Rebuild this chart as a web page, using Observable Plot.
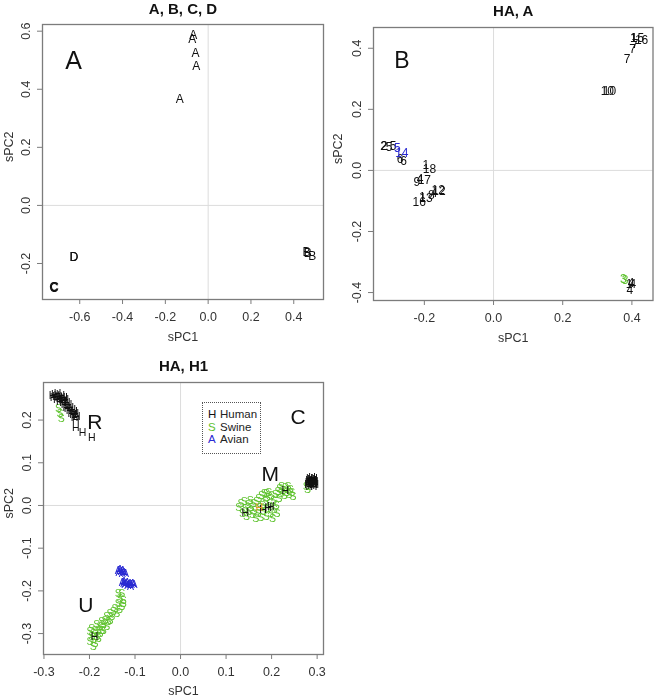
<!DOCTYPE html>
<html><head><meta charset="utf-8">
<script src="https://cdn.jsdelivr.net/npm/d3@7"></script>
<script src="https://cdn.jsdelivr.net/npm/@observablehq/plot@0.6"></script>
<style>
body{margin:0;background:#fff;font-family:"Liberation Sans",Arial,sans-serif;}
#wrap{position:relative;width:654px;height:698px;overflow:hidden;background:#fff;}
.panel{position:absolute;will-change:transform;}
.panel svg{background:transparent !important;}
.legend{position:absolute;border:1px dotted #555;box-sizing:border-box;font-size:11.5px;padding:5px 0 0 5px;line-height:12.6px;background:#fff;}
.legend .k{display:inline-block;width:12px;}
</style></head><body><div id="wrap"></div>
<script>
// ---------- Panel 1: A, B, C, D ----------
const abcdLabels = ["A","A","A","A","A","B","B","B","C","C","C","D","D"];
const abcdX = [-0.070,-0.074,-0.059,-0.056,-0.133, 0.460,0.465,0.486, -0.722,-0.720,-0.718, -0.628,-0.626];
const abcdY = [0.588,0.572,0.524,0.480,0.367, -0.160,-0.163,-0.176, -0.282,-0.285,-0.281, -0.177,-0.178];

// ---------- Panel 2: HA, A ----------
const haLabels = ["1","15","16","7","7","7","10","10","2","2","5","5","5","14","6","6","1","18","9","4","17","16","1","13","8","4","12","12","3","3","4","4","1","4"];
const haHost = ["o","o","o","o","o","o","o","o","o","o","o","o","avian","avian","o","o","o","o","o","o","o","o","o","o","o","o","o","o","swine","swine","o","o","o","o"];
const haX = [0.404,0.416,0.428,0.409,0.402,0.386,0.329,0.335,-0.318,-0.316,-0.302,-0.290,-0.278,-0.265,-0.270,-0.260,-0.196,-0.185,-0.222,-0.212,-0.200,-0.215,-0.206,-0.195,-0.180,-0.172,-0.160,-0.158,0.375,0.380,0.398,0.403,0.392,0.394];
const haY = [0.432,0.433,0.428,0.412,0.398,0.365,0.259,0.259,0.080,0.081,0.076,0.078,0.074,0.055,0.036,0.031,0.018,0.005,-0.040,-0.030,-0.033,-0.103,-0.088,-0.092,-0.082,-0.074,-0.066,-0.069,-0.356,-0.358,-0.370,-0.371,-0.372,-0.392];

// ---------- Panel 3: HA, H1 ----------
const humanPts = [
  [-0.281,0.258],[-0.279,0.252],[-0.276,0.260],[-0.274,0.255],[-0.272,0.249],[-0.270,0.262],[-0.268,0.256],[-0.266,0.250],
  [-0.265,0.244],[-0.262,0.258],[-0.261,0.252],[-0.259,0.246],[-0.258,0.240],[-0.256,0.253],[-0.255,0.236],[-0.253,0.247],
  [-0.251,0.230],[-0.250,0.242],[-0.248,0.226],[-0.246,0.236],[-0.244,0.222],[-0.242,0.230],[-0.240,0.216],[-0.238,0.224],
  [-0.236,0.212],[-0.234,0.220],[-0.233,0.206],[-0.231,0.214],[-0.230,0.200],[-0.228,0.208],[-0.230,0.183],[-0.215,0.171],[-0.195,0.158],
  [0.280,0.050],[0.282,0.058],[0.283,0.045],[0.284,0.064],[0.285,0.052],[0.286,0.060],[0.287,0.047],[0.288,0.055],[0.289,0.065],
  [0.290,0.050],[0.291,0.058],[0.292,0.045],[0.293,0.062],[0.294,0.053],[0.295,0.057],[0.296,0.049],[0.287,0.052],[0.289,0.056],
  [0.291,0.053],[0.285,0.056],[0.293,0.050],[0.281,0.054],[0.288,0.061],
  [0.142,-0.016],[0.181,-0.010],[0.193,-0.004],[0.198,-0.002],[0.230,0.035],
  [-0.189,-0.308]
];
const humanOtherPts = [[0.173,-0.006]];
const swinePts = [
  [-0.268,0.226],[-0.265,0.215],[-0.262,0.203],
  [0.276,0.044],[0.279,0.038],
  [0.128,-0.005],[0.133,0.005],[0.136,-0.018],[0.140,0.010],[0.142,-0.008],[0.145,-0.025],[0.148,0.002],[0.150,-0.015],
  [0.153,0.012],[0.155,-0.005],[0.158,-0.022],[0.160,0.004],[0.162,-0.012],[0.165,-0.030],[0.167,0.008],[0.170,-0.020],
  [0.172,0.015],[0.174,-0.005],[0.176,-0.028],[0.178,0.022],[0.180,0.000],[0.182,-0.015],[0.184,0.028],[0.186,0.010],
  [0.188,-0.025],[0.190,0.018],[0.192,-0.008],[0.194,0.030],[0.196,0.005],[0.198,-0.020],[0.200,0.022],[0.202,-0.030],
  [0.204,0.012],[0.206,-0.010],[0.208,0.025],[0.210,0.000],[0.212,-0.018],[0.214,0.032],[0.216,0.015],[0.218,0.040],
  [0.220,0.028],[0.222,0.045],[0.225,0.035],[0.228,0.022],[0.230,0.042],[0.233,0.030],[0.236,0.045],[0.238,0.025],
  [0.241,0.038],[0.244,0.030],[0.247,0.020],[0.189,0.027],
  [-0.129,-0.206],[-0.133,-0.218],[-0.126,-0.222],[-0.137,-0.230],[-0.129,-0.238],[-0.144,-0.241],[-0.148,-0.249],
  [-0.155,-0.253],[-0.151,-0.261],[-0.162,-0.261],[-0.166,-0.269],[-0.159,-0.273],[-0.173,-0.273],[-0.170,-0.280],
  [-0.177,-0.284],[-0.184,-0.280],[-0.162,-0.284],[-0.181,-0.292],[-0.188,-0.292],[-0.192,-0.300],[-0.199,-0.296],
  [-0.195,-0.308],[-0.184,-0.308],[-0.192,-0.315],[-0.199,-0.319],[-0.188,-0.323],[-0.192,-0.331],[-0.177,-0.300],
  [-0.170,-0.292],[-0.155,-0.269],[-0.140,-0.253],[-0.134,-0.245],[-0.195,-0.288],[-0.181,-0.311],[-0.173,-0.292],
  [-0.137,-0.206],[-0.126,-0.230]
];
const avianPts = [
  [-0.137,-0.152],[-0.133,-0.150],[-0.130,-0.155],[-0.127,-0.153],[-0.124,-0.158],[-0.121,-0.160],[-0.135,-0.158],[-0.128,-0.160],
  [-0.128,-0.180],[-0.124,-0.178],[-0.120,-0.183],[-0.117,-0.180],[-0.114,-0.185],[-0.111,-0.182],[-0.108,-0.186],[-0.105,-0.183],
  [-0.122,-0.186],[-0.116,-0.188],[-0.110,-0.189],[-0.125,-0.184],[-0.102,-0.186]
];
const legendKeys = ["H","S","A"];
const legendNames = ["Human","Swine","Avian"];

// panel-letter annotations (data space)
const annA = [{t:"A", x:-0.629, y:0.499}];
const annB = [{t:"B", x:-0.265, y:0.361}];
const annC = [{t:"R", x:-0.188, y:0.196},{t:"C", x:0.258, y:0.206},{t:"M", x:0.197, y:0.074},{t:"U", x:-0.208, y:-0.234}];

const COL = {o:"#111", human:"#111", swine:"#5ec22e", avian:"#2a2ad2", other:"#e8982c"};
const FONT = '"Liberation Sans", Arial, sans-serif';
const fmt = d => d.toFixed(1);
const wrap = document.getElementById("wrap");

function panel(o) {
  const chart = Plot.plot({
    width: o.width, height: o.height,
    marginLeft: o.ml, marginRight: o.mr, marginTop: o.mt, marginBottom: o.mb,
    x: {domain: o.xd}, y: {domain: o.yd},
    style: {fontFamily: FONT, fontSize: "12.5px", background: "transparent", color: "#222", overflow: "visible"},
    marks: [
      Plot.ruleX([0], {stroke: "#dcdcdc", strokeWidth: 1}),
      Plot.ruleY([0], {stroke: "#dcdcdc", strokeWidth: 1}),
      ...o.marks,
      Plot.frame({stroke: "#7c7c7c", strokeWidth: 1.3}),
      Plot.axisX({ticks: o.xt, tickSize: 5, tickPadding: 8, tickFormat: fmt, label: null, stroke: "#7c7c7c", fill: "#333", fontSize: 12.5}),
      Plot.axisY({ticks: o.yt, tickSize: 5, tickPadding: 7.5, tickRotate: -90, textAnchor: "middle", lineAnchor: "bottom", tickFormat: fmt, label: null, stroke: "#7c7c7c", fill: "#333", fontSize: 12.5}),
      Plot.text([o.title], {text: d => d, frameAnchor: "top", dy: o.tdy, fontWeight: "bold", fontSize: 15, lineAnchor: "middle", fill: "#111"}),
      Plot.text(["sPC1"], {text: d => d, frameAnchor: "bottom", dy: o.xldy, lineAnchor: "middle", fontSize: 12.5, fill: "#333"}),
      Plot.text(["sPC2"], {text: d => d, frameAnchor: "left", dx: o.yldx, rotate: -90, lineAnchor: "middle", fontSize: 12.5, fill: "#333"})
    ]
  });
  const d = document.createElement("div");
  d.className = "panel";
  d.style.left = o.left + "px"; d.style.top = o.top + "px";
  d.appendChild(chart);
  wrap.appendChild(d);
}

const bigText = (ann, size) => Plot.text(ann, {x: "x", y: "y", text: "t", fontSize: size, fill: "#111", lineAnchor: "middle"});

// Panel 3 first (drawn underneath the upper panels' overhanging margins)
const glyphs = (pts, ch, col) => Plot.text(pts, {x: d => d[0], y: d => d[1], text: () => ch, fill: col, fontSize: 10.5, lineAnchor: "middle"});
panel({
  left: 0, top: 340, width: 330, height: 358, ml: 43, mr: 7, mt: 42, mb: 44,
  xd: [-0.301, 0.314], yd: [-0.349, 0.288],
  xt: [-0.3,-0.2,-0.1,0,0.1,0.2,0.3], yt: [-0.3,-0.2,-0.1,0,0.1,0.2],
  title: "HA, H1", tdy: -16.5, xldy: 36, yldx: -35,
  marks: [
    glyphs(swinePts, "S", COL.swine),
    glyphs(avianPts, "A", COL.avian),
    glyphs(humanPts, "H", COL.human),
    glyphs(humanOtherPts, "H", COL.other),
    bigText(annC, 21)
  ]
});

// Panel 1
const abcd = abcdLabels.map((t, i) => ({t, x: abcdX[i], y: abcdY[i]}));
panel({
  left: 0, top: 0, width: 330, height: 352, ml: 42, mr: 7, mt: 24, mb: 53,
  xd: [-0.774, 0.539], yd: [-0.324, 0.623],
  xt: [-0.6,-0.4,-0.2,0,0.2,0.4], yt: [-0.2,0,0.2,0.4,0.6],
  title: "A, B, C, D", tdy: -15, xldy: 37, yldx: -34,
  marks: [
    Plot.text(abcd, {x: "x", y: "y", text: "t", fontSize: 12, fill: "#111", lineAnchor: "middle"}),
    bigText(annA, 25)
  ]
});

// Panel 2
const ha = haLabels.map((t, i) => ({t, x: haX[i], y: haY[i], h: haHost[i]}));
panel({
  left: 330, top: 0, width: 324, height: 352, ml: 43, mr: 1.5, mt: 27, mb: 52,
  xd: [-0.347, 0.461], yd: [-0.426, 0.468],
  xt: [-0.2,0,0.2,0.4], yt: [-0.4,-0.2,0,0.2,0.4],
  title: "HA, A", tdy: -16.5, xldy: 37, yldx: -36,
  marks: [
    Plot.text(ha.filter(d => d.h === "o"), {x: "x", y: "y", text: "t", fill: COL.o, fontSize: 12, lineAnchor: "middle"}),
    Plot.text(ha.filter(d => d.h === "swine"), {x: "x", y: "y", text: "t", fill: COL.swine, fontSize: 12, lineAnchor: "middle"}),
    Plot.text(ha.filter(d => d.h === "avian"), {x: "x", y: "y", text: "t", fill: COL.avian, fontSize: 12, lineAnchor: "middle"}),
    bigText(annB, 23)
  ]
});

// Legend for panel 3
const lg = document.createElement("div");
lg.className = "legend";
lg.style.left = "202px"; lg.style.top = "402px"; lg.style.width = "59px"; lg.style.height = "52px";
const lgCols = [COL.human, COL.swine, COL.avian];
lg.innerHTML = legendKeys.map((k, i) =>
  `<div><span class="k" style="color:${lgCols[i]}">${k}</span><span style="color:#222">${legendNames[i]}</span></div>`).join("");
wrap.appendChild(lg);
</script></body></html>
